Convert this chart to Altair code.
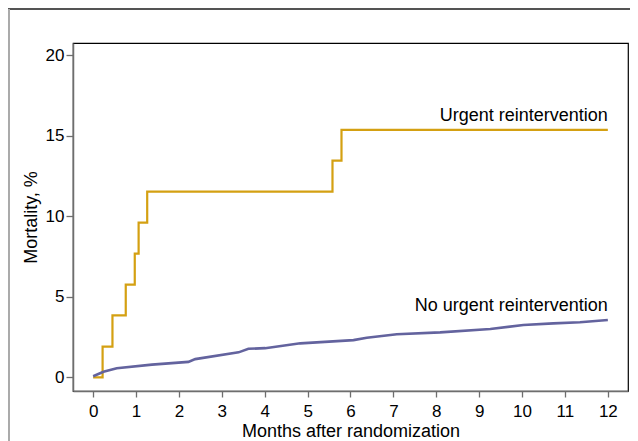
import altair as alt
import pandas as pd

# ---- data ----
urgent_months = [0, 0.22, 0.45, 0.76, 0.97, 1.06, 1.26, 5.58, 5.79, 12]
urgent_mortality = [0, 1.92, 3.85, 5.77, 7.69, 9.62, 11.54, 13.46, 15.38, 15.38]

no_urgent_months = [0, 0.24, 0.55, 1.37, 2.22, 2.38, 3.39, 3.62, 4.01, 4.83,
                    6.07, 6.38, 7.08, 8.09, 9.26, 10.03, 10.73, 11.35, 12]
no_urgent_mortality = [0.08, 0.35, 0.57, 0.8, 0.97, 1.14, 1.56, 1.78, 1.82, 2.12,
                       2.32, 2.47, 2.68, 2.8, 3.01, 3.26, 3.36, 3.43, 3.57]

label_text = ["Urgent reintervention", "No urgent reintervention"]
label_month = [12, 12]
label_value = [15.94, 4.11]

x_ticks = list(range(0, 13))
y_ticks = [0, 5, 10, 15, 20]

FONT = "Liberation Sans"
ORANGE = "#D4A012"
PURPLE = "#63639E"

urgent_df = pd.DataFrame({"month": urgent_months, "mortality": urgent_mortality})
no_urgent_df = pd.DataFrame({"month": no_urgent_months, "mortality": no_urgent_mortality})
label_df = pd.DataFrame({"month": label_month, "mortality": label_value, "text": label_text})

x_scale = alt.Scale(domain=[-0.47, 12.47], nice=False, zero=False)
y_scale = alt.Scale(domain=[-0.84, 20.77], nice=False, zero=False)

x_enc = alt.X("month:Q", scale=x_scale,
              axis=alt.Axis(values=x_ticks, title="Months after randomization",
                            tickSize=6, labelPadding=6, titlePadding=3, format="d"))
y_enc = alt.Y("mortality:Q", scale=y_scale,
              axis=alt.Axis(values=y_ticks, title="Mortality, %",
                            tickSize=7, labelPadding=2, titlePadding=5, format="d"))

urgent_line = alt.Chart(urgent_df).mark_line(
    interpolate="step-after", color=ORANGE, strokeWidth=2.2
).encode(x=x_enc, y=y_enc)

no_urgent_line = alt.Chart(no_urgent_df).mark_line(
    interpolate="linear", color=PURPLE, strokeWidth=2.6
).encode(x="month:Q", y="mortality:Q")

labels = alt.Chart(label_df).mark_text(
    align="right", baseline="alphabetic", font=FONT, fontSize=18, color="black"
).encode(x="month:Q", y="mortality:Q", text="text:N")

# decorative outer frame of the figure panel
frame_top = alt.Chart(urgent_df).mark_rule(color="#555555", strokeWidth=1).encode(
    x=alt.value(-65), x2=alt.value(700), y=alt.value(-34)
)
frame_left = alt.Chart(urgent_df).mark_rule(color="#aaaaaa", strokeWidth=1.5).encode(
    x=alt.value(-64.3), y=alt.value(-34), y2=alt.value(420)
)

chart = alt.layer(frame_top, frame_left, urgent_line, no_urgent_line, labels).properties(
    width=555,
    height=348,
    autosize=alt.AutoSizeParams(type="none"),
    padding={"left": 65, "top": 35, "right": 2, "bottom": 52},
).configure_view(
    stroke="black", strokeWidth=1.2
).configure_axis(
    grid=False,
    domainColor="#6e6e6e",
    domainWidth=1.5,
    tickColor="#6e6e6e",
    tickWidth=1.3,
    labelFont=FONT,
    labelFontSize=17,
    labelColor="black",
    titleFont=FONT,
    titleFontSize=18,
    titleFontWeight="normal",
    titleColor="black",
)

chart.save("out.html", embed_options={"renderer": "svg", "actions": False})
